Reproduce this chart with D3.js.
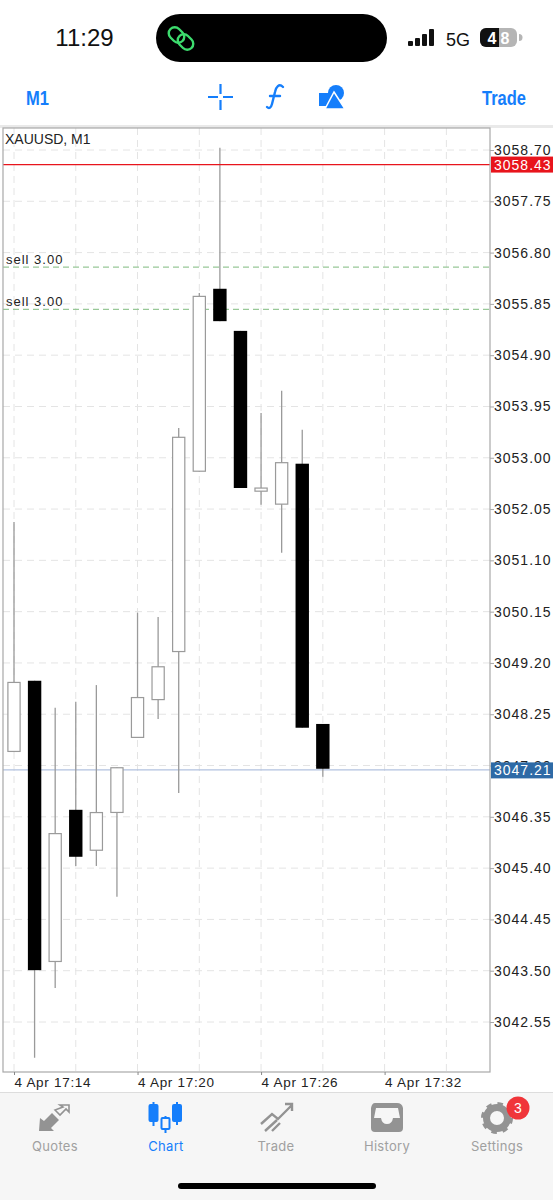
<!DOCTYPE html>
<html>
<head>
<meta charset="utf-8">
<style>
  html, body { margin: 0; padding: 0; background: #fff; }
  svg { display: block; }
  text { font-family: "Liberation Sans", Arial, sans-serif; }
  .price text { font-size: 14px; letter-spacing: 1px; fill: #222; }
  .time text { font-size: 13.5px; letter-spacing: 0.7px; fill: #222; }
  .tab { font-size: 13px; font-family: Inter, "Liberation Sans", sans-serif; letter-spacing: 0.3px; text-anchor: middle; }
</style>
</head>
<body>
<svg id="chart" width="553" height="1200"></svg>
<script src="https://cdn.jsdelivr.net/npm/d3@7"></script>
<script>
// Candles, one per minute starting 17:14
const minutes = [14, 15, 16, 17, 18, 19, 20, 21, 22, 23, 24, 25, 26, 27, 28, 29];
const opens  = [3047.55, 3048.87, 3043.66, 3046.48, 3045.72, 3046.42, 3047.81, 3048.51, 3049.40, 3052.74, 3056.13, 3055.35, 3052.37, 3052.13, 3052.89, 3048.07];
const highs  = [3051.81, 3048.87, 3048.37, 3048.48, 3048.79, 3047.27, 3050.13, 3050.05, 3053.55, 3056.05, 3058.74, 3055.35, 3053.83, 3054.24, 3053.52, 3048.07];
const lows   = [3047.55, 3041.89, 3043.18, 3045.44, 3045.44, 3044.87, 3047.81, 3048.16, 3046.79, 3052.74, 3055.53, 3052.44, 3052.13, 3051.24, 3048.00, 3047.09];
const closes = [3048.85, 3043.51, 3046.05, 3045.61, 3046.44, 3047.27, 3048.57, 3049.14, 3053.39, 3056.00, 3055.53, 3052.44, 3052.45, 3052.92, 3048.00, 3047.24];

const priceTicks = [3058.70, 3057.75, 3056.80, 3055.85, 3054.90, 3053.95, 3053.00, 3052.05, 3051.10, 3050.15, 3049.20, 3048.25, 3047.30, 3046.35, 3045.40, 3044.45, 3043.50, 3042.55];
const timeLabels = [14, 20, 26, 32];
const gridMinutes = [14, 17, 20, 23, 26, 29, 32, 35];
const orderLevels = [3056.53, 3055.75];
const orderLabels = ['sell 3.00', 'sell 3.00'];
const askPrice = 3058.43;
const bidPrice = 3047.21;
const tabNames = ['Quotes', 'Chart', 'Trade', 'History', 'Settings'];

const svg = d3.select('#chart');
const frame = { left: 3, right: 490, top: 128, bottom: 1072 };
const blue = '#157efb';
const wick = '#9a9a9a';

const toTime = m => new Date(Date.UTC(2025, 3, 4, 17, m));
const x = d3.scaleUtc().domain([toTime(14), toTime(32)]).range([14, 384.6]);
const y = d3.scaleLinear().domain([3058.70, 3042.55]).range([150, 1022]);

// Status bar
svg.append('text').attr('x', 84.5).attr('y', 46).attr('text-anchor', 'middle')
    .attr('font-size', 24).attr('font-weight', 500).attr('fill', '#111').text('11:29');
svg.append('rect').attr('x', 156).attr('y', 14).attr('width', 231).attr('height', 48).attr('rx', 24).attr('fill', '#000');
const link = svg.append('g').attr('fill', 'none').attr('stroke', '#3ddc6e').attr('stroke-width', 2.4);
link.append('rect').attr('x', 168).attr('y', 29).attr('width', 17).attr('height', 12).attr('rx', 6).attr('transform', 'rotate(45 176.500 35)');
link.append('rect').attr('x', 177).attr('y', 36).attr('width', 17).attr('height', 12).attr('rx', 6).attr('transform', 'rotate(45 185.500 42)');
[[408, 5], [415, 8], [422, 12], [429, 17]].forEach(b => {
    svg.append('rect').attr('x', b[0]).attr('y', 46 - b[1]).attr('width', 5).attr('height', b[1]).attr('rx', 1).attr('fill', '#111');
});
svg.append('text').attr('x', 446).attr('y', 46).attr('font-size', 18).attr('fill', '#111').text('5G');
svg.append('rect').attr('x', 480).attr('y', 28).attr('width', 37).attr('height', 19).attr('rx', 6).attr('fill', '#b5b5b5');
svg.append('path').attr('d', 'M486 28H499V47H486A6 6 0 0 1 480 41V34A6 6 0 0 1 486 28Z').attr('fill', '#111');
svg.append('path').attr('d', 'M519 34a3 3 0 0 1 0 7Z').attr('fill', '#b5b5b5');
svg.append('text').attr('x', 492).attr('y', 43.5).attr('text-anchor', 'middle').attr('font-size', 16).attr('font-weight', 700).attr('fill', '#fff').text('4');
svg.append('text').attr('x', 505).attr('y', 43.5).attr('text-anchor', 'middle').attr('font-size', 16).attr('font-weight', 700).attr('fill', '#fff').text('8');

// Toolbar
svg.append('text').attr('x', 26).attr('y', 105).attr('font-size', 20).attr('font-weight', 700).attr('fill', blue)
    .attr('textLength', 23).attr('lengthAdjust', 'spacingAndGlyphs').text('M1');
svg.append('text').attr('x', 482).attr('y', 105).attr('font-size', 20).attr('font-weight', 700).attr('fill', blue)
    .attr('textLength', 44).attr('lengthAdjust', 'spacingAndGlyphs').text('Trade');
svg.append('path').attr('d', 'M208 97H218M223 97H233M220.500 84V94M220.500 100V110')
    .attr('stroke', blue).attr('stroke-width', 2.2).attr('fill', 'none');
svg.append('path').attr('d', 'M283 87C279 83 276 87 275 92L272 104C271 108 269 109 267 107M270 96H280')
    .attr('stroke', blue).attr('stroke-width', 2.4).attr('fill', 'none').attr('stroke-linecap', 'round');
svg.append('rect').attr('x', 319).attr('y', 93).attr('width', 13).attr('height', 13).attr('fill', blue);
svg.append('circle').attr('cx', 336).attr('cy', 93).attr('r', 8).attr('fill', blue);
svg.append('path').attr('d', 'M334 92L345 109H325Z').attr('fill', blue).attr('stroke', '#fff').attr('stroke-width', 1.5);

svg.append('rect').attr('x', 0).attr('y', 125).attr('width', 553).attr('height', 3).attr('fill', '#e9e9e9');

// Grid
const grid = svg.append('g').attr('stroke', '#e4e4e4').attr('stroke-width', 1).attr('stroke-dasharray', '7 5');
grid.selectAll('.h').data(priceTicks).join('line').attr('class', 'h')
    .attr('x1', frame.left).attr('x2', frame.right).attr('y1', d => y(d)).attr('y2', d => y(d));
grid.selectAll('.v').data(gridMinutes).join('line').attr('class', 'v')
    .attr('x1', d => x(toTime(d))).attr('x2', d => x(toTime(d))).attr('y1', frame.top).attr('y2', frame.bottom);

// Order lines
svg.selectAll('.order').data(orderLevels).join('line').attr('class', 'order')
    .attr('x1', frame.left).attr('x2', frame.right).attr('y1', d => y(d)).attr('y2', d => y(d))
    .attr('stroke', '#98c898').attr('stroke-width', 1.2).attr('stroke-dasharray', '6 4');
svg.selectAll('.orderLabel').data(orderLevels).join('text').attr('class', 'orderLabel')
    .attr('x', 6).attr('y', d => y(d) - 3).attr('font-size', 13).attr('letter-spacing', 1).attr('fill', '#222')
    .text((d, i) => orderLabels[i]);

// Bid line sits behind the candles
svg.append('line').attr('x1', frame.left).attr('x2', frame.right).attr('y1', y(bidPrice) - 0.5).attr('y2', y(bidPrice) - 0.5)
    .attr('stroke', '#b2c2df').attr('stroke-width', 1.3);

// Candles
const idx = d3.range(minutes.length);
const cx = i => x(toTime(minutes[i]));
const candleW = 13.4;
const isUp = i => closes[i] >= opens[i];
svg.append('g').selectAll('line').data(idx).join('line')
    .attr('x1', cx).attr('x2', cx).attr('y1', i => y(highs[i])).attr('y2', i => y(lows[i]))
    .attr('stroke', wick).attr('stroke-width', 1.3);
svg.append('g').selectAll('rect').data(idx).join('rect')
    .attr('x', i => cx(i) - candleW / 2 + (isUp(i) ? 0.6 : 0))
    .attr('width', i => isUp(i) ? candleW - 1.2 : candleW)
    .attr('y', i => y(Math.max(opens[i], closes[i])) + (isUp(i) ? 0.6 : 0))
    .attr('height', i => Math.abs(y(opens[i]) - y(closes[i])) - (isUp(i) ? 1.2 : 0))
    .attr('fill', i => isUp(i) ? '#fff' : '#000')
    .attr('stroke', i => isUp(i) ? wick : 'none')
    .attr('stroke-width', 1.2);

// Ask line stays on top
svg.append('line').attr('x1', frame.left).attr('x2', frame.right).attr('y1', y(askPrice)).attr('y2', y(askPrice))
    .attr('stroke', '#e8141c').attr('stroke-width', 1.3);

// Frame
svg.append('rect').attr('x', frame.left).attr('y', frame.top)
    .attr('width', frame.right - frame.left).attr('height', frame.bottom - frame.top)
    .attr('fill', 'none').attr('stroke', '#a8a8a8').attr('stroke-width', 1.2);

svg.append('text').attr('x', 5).attr('y', 144).attr('font-size', 14).attr('fill', '#222').text('XAUUSD, M1');

// Axes
const priceAxis = d3.axisRight(y).tickValues(priceTicks).tickSize(4).tickPadding(0).tickFormat(d3.format('.2f'));
const gp = svg.append('g').attr('class', 'price').attr('transform', `translate(${frame.right},0)`).call(priceAxis);
gp.select('.domain').remove();
gp.selectAll('line').attr('stroke', '#a8a8a8');

const timeAxis = d3.axisBottom(x).tickValues(timeLabels.map(toTime)).tickSize(3).tickPadding(2)
    .tickFormat(d => '4 Apr ' + d3.utcFormat('%H:%M')(d));
const gt = svg.append('g').attr('class', 'time').attr('transform', `translate(0,${frame.bottom})`).call(timeAxis);
gt.select('.domain').remove();
gt.selectAll('line').attr('stroke', '#888');
gt.selectAll('text').attr('text-anchor', 'start');

// Price boxes
[[askPrice, '#e8141c'], [bidPrice, '#2e6aa6']].forEach(p => {
    svg.append('rect').attr('x', 491).attr('y', y(p[0]) - 8).attr('width', 62).attr('height', 16).attr('fill', p[1]);
    svg.append('text').attr('x', 494).attr('y', y(p[0]) + 5).attr('font-size', 14).attr('letter-spacing', 1)
        .attr('fill', '#fff').text(d3.format('.2f')(p[0]));
});

// Tab bar
svg.append('rect').attr('x', 0).attr('y', 1093).attr('width', 553).attr('height', 107).attr('fill', '#f6f6f6');
svg.append('line').attr('x1', 0).attr('x2', 553).attr('y1', 1092.5).attr('y2', 1092.5).attr('stroke', '#ddd');
const tabX = [55, 166, 276, 387, 497];
svg.selectAll('.tab').data(tabNames).join('text').attr('class', 'tab')
    .attr('x', (d, i) => tabX[i]).attr('y', 1151)
    .attr('fill', (d, i) => i === 1 ? blue : '#a0a0a0').text(d => d);

const grey = '#939393';
// Quotes icon
svg.append('path').attr('d', 'M39 1131L40 1118L44 1121L52 1113L59 1120L51 1128L54 1131Z').attr('fill', grey);
svg.append('path').attr('d', 'M55 1110L60 1115L66 1109L69 1112V1105H60L63 1107Z').attr('stroke', grey).attr('stroke-width', 1.6).attr('fill', 'none');
// Chart icon
[[153.500, 1102, 1126, 1105, 1121], [165.500, 1116, 1133, 1118, 1129], [177, 1102, 1125, 1105, 1121]].forEach(c => {
    svg.append('line').attr('x1', c[0]).attr('x2', c[0]).attr('y1', c[1]).attr('y2', c[2]).attr('stroke', blue).attr('stroke-width', 2);
    svg.append('rect').attr('x', c[0] - 4).attr('y', c[3]).attr('width', 8).attr('height', c[4] - c[3]).attr('rx', 1)
        .attr('fill', c[0] === 165.5 ? '#f6f6f6' : blue).attr('stroke', blue).attr('stroke-width', 2);
});
// Trade icon
svg.append('path').attr('d', 'M261 1124L272 1114L278 1119L292 1105M285 1104H292V1111M265 1131L277 1120M272 1131L280 1123')
    .attr('stroke', grey).attr('stroke-width', 2.4).attr('fill', 'none');
// History icon
svg.append('path').attr('d', 'M375 1103H397Q402 1103 403 1108V1128Q403 1132 399 1132H375Q371 1132 371 1128V1108Q372 1103 375 1103ZM376 1108L374 1118H381Q382 1124 387 1124Q392 1124 393 1118H400L398 1108Z')
    .attr('fill', grey).attr('fill-rule', 'evenodd');
// Settings icon
svg.append('circle').attr('cx', 497).attr('cy', 1118).attr('r', 10.500).attr('fill', 'none').attr('stroke', grey).attr('stroke-width', 7);
svg.append('circle').attr('cx', 497).attr('cy', 1118).attr('r', 14.500).attr('fill', 'none').attr('stroke', grey).attr('stroke-width', 3).attr('stroke-dasharray', '5.500 5.890');
svg.append('circle').attr('cx', 518).attr('cy', 1108).attr('r', 11.500).attr('fill', '#f0353a');
svg.append('text').attr('x', 518).attr('y', 1113).attr('text-anchor', 'middle').attr('font-size', 14).attr('fill', '#fff').text('3');

// Home indicator
svg.append('rect').attr('x', 178).attr('y', 1183).attr('width', 198).attr('height', 6).attr('rx', 3).attr('fill', '#000');
</script>
</body>
</html>
